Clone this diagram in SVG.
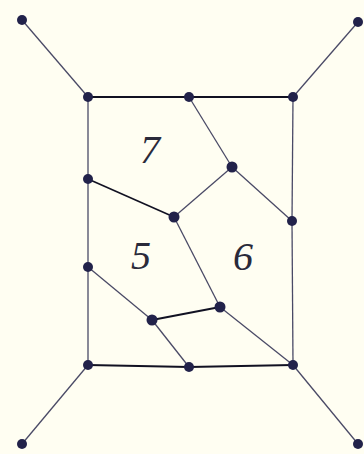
<svg xmlns="http://www.w3.org/2000/svg" width="364" height="454" viewBox="0 0 364 454">
<style>
.e{stroke:#4a4a66;stroke-width:1.3;fill:none}
.t{stroke:#111122;stroke-width:2.2;fill:none}
.n{fill:#22224a}
.l{font-family:"Liberation Serif",serif;font-style:italic;font-size:40px;fill:#2a2a3a}
</style>
<rect width="364" height="454" fill="#fffef2"/>
<g id="connectors">
<line class="e" x1="22" y1="20" x2="88" y2="97"/>
<line class="e" x1="358" y1="22" x2="293" y2="97"/>
<line class="e" x1="22" y1="444" x2="88" y2="365"/>
<line class="e" x1="358" y1="444" x2="293" y2="365"/>
<line class="t" x1="88" y1="97" x2="189" y2="97"/>
<line class="t" x1="189" y1="97" x2="293" y2="97"/>
<line class="t" x1="88" y1="365" x2="189" y2="367"/>
<line class="t" x1="189" y1="367" x2="293" y2="365"/>
<line class="e" x1="88" y1="97" x2="88" y2="179"/>
<line class="e" x1="88" y1="179" x2="88" y2="267"/>
<line class="e" x1="88" y1="267" x2="88" y2="365"/>
<line class="e" x1="293" y1="97" x2="292" y2="221"/>
<line class="e" x1="292" y1="221" x2="293" y2="365"/>
<line class="e" x1="189" y1="97" x2="232" y2="167"/>
<line class="e" x1="232" y1="167" x2="292" y2="221"/>
<line class="e" x1="232" y1="167" x2="174" y2="217"/>
<line class="t" x1="88" y1="179" x2="174" y2="217" style="stroke-width:1.6"/>
<line class="e" x1="174" y1="217" x2="220" y2="307"/>
<line class="e" x1="220" y1="307" x2="293" y2="365"/>
<line class="e" x1="88" y1="267" x2="152" y2="320"/>
<line class="t" x1="152" y1="320" x2="220" y2="307" style="stroke-width:1.8"/>
<line class="e" x1="152" y1="320" x2="189" y2="367"/>
</g>
<g id="n1"><circle class="n" cx="22" cy="20" r="5"/></g>
<g id="n2"><circle class="n" cx="358" cy="22" r="5"/></g>
<g id="n3"><circle class="n" cx="88" cy="97" r="5"/></g>
<g id="n4"><circle class="n" cx="189" cy="97" r="5"/></g>
<g id="n5"><circle class="n" cx="293" cy="97" r="5"/></g>
<g id="n6"><circle class="n" cx="88" cy="179" r="5"/></g>
<g id="n7"><circle class="n" cx="232" cy="167" r="5.5"/></g>
<g id="n8"><circle class="n" cx="174" cy="217" r="5.5"/></g>
<g id="n9"><circle class="n" cx="292" cy="221" r="5"/></g>
<g id="n10"><circle class="n" cx="88" cy="267" r="5"/></g>
<g id="n11"><circle class="n" cx="220" cy="307" r="5.5"/></g>
<g id="n12"><circle class="n" cx="152" cy="320" r="5.5"/></g>
<g id="n13"><circle class="n" cx="88" cy="365" r="5"/></g>
<g id="n14"><circle class="n" cx="189" cy="367" r="5"/></g>
<g id="n15"><circle class="n" cx="293" cy="365" r="5"/></g>
<g id="n16"><circle class="n" cx="22" cy="444" r="5"/></g>
<g id="n17"><circle class="n" cx="358" cy="444" r="5"/></g>
<g id="labels">
<text class="l" x="140" y="163">7</text>
<text class="l" x="131" y="269">5</text>
<text class="l" x="233" y="270">6</text>
</g>
</svg>
